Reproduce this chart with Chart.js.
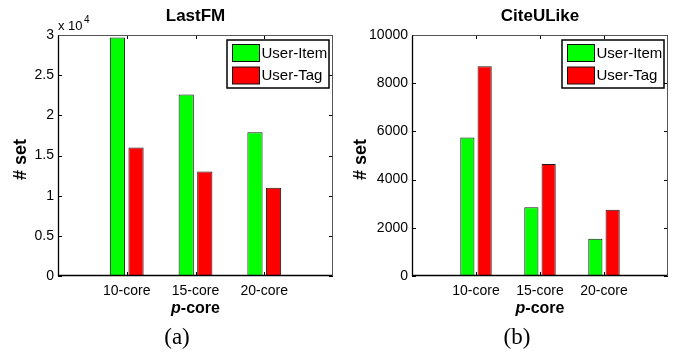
<!DOCTYPE html>
<html>
<head>
<meta charset="utf-8">
<script src="https://cdn.jsdelivr.net/npm/chart.js@4.4.1/dist/chart.umd.min.js"></script>
<style>
html, body { margin: 0; padding: 0; background: #fff; }
#wrap { position: relative; width: 675px; height: 354px; }
.panel { position: absolute; top: 0; height: 354px; }
</style>
</head>
<body>
<div id="wrap">
  <div class="panel" style="left:0;width:340px"><canvas id="lastfm"></canvas></div>
  <div class="panel" style="left:340px;width:335px"><canvas id="citeulike"></canvas></div>
</div>
<script>
// data
const categories = ['10-core', '15-core', '20-core'];
const seriesNames = ['User-Item', 'User-Tag'];
const seriesColors = ['#00ff00', '#ff0000'];

const lastfmItem = [29700, 22600, 17900];
const lastfmTag = [16000, 13000, 11000];
const lastfmTicks = ['0', '0.5', '1', '1.5', '2', '2.5', '3'];

const citeItem = [5750, 2850, 1550];
const citeTag = [8700, 4650, 2750];
const citeTicks = ['0', '2000', '4000', '6000', '8000', '10000'];

const SANS = "'Liberation Sans', Arial, sans-serif";
const SERIF = "'Liberation Serif', 'Times New Roman', serif";

function figure(title, caption, exponent) {
    return {
        id: 'figure',
        afterDatasetsDraw(chart) {
            const ctx = chart.ctx, a = chart.chartArea;
            const x = chart.scales.x, y = chart.scales.y;
            ctx.save();
            // tick marks inside the box
            ctx.strokeStyle = '#000';
            ctx.lineWidth = 1;
            ctx.beginPath();
            categories.forEach((c, i) => {
                const px = Math.round(x.getPixelForValue(i + 1)) + 0.5;
                ctx.moveTo(px, a.bottom); ctx.lineTo(px, a.bottom - 4);
                ctx.moveTo(px, a.top); ctx.lineTo(px, a.top + 4);
            });
            y.ticks.forEach(t => {
                const py = Math.round(y.getPixelForValue(t.value)) + 0.5;
                ctx.moveTo(a.left, py); ctx.lineTo(a.left + 4, py);
                ctx.moveTo(a.right, py); ctx.lineTo(a.right - 4, py);
            });
            ctx.stroke();
            // axes box
            const l = Math.round(a.left) + 0.5, r = Math.round(a.right) - 0.5;
            const tp = Math.round(a.top) + 0.5, b = Math.round(a.bottom) - 0.5;
            ctx.strokeStyle = '#555';
            ctx.beginPath();
            ctx.moveTo(l, tp); ctx.lineTo(r, tp); ctx.lineTo(r, b);
            ctx.stroke();
            ctx.strokeStyle = '#000';
            ctx.lineWidth = 1.3;
            ctx.beginPath();
            ctx.moveTo(l, tp); ctx.lineTo(l, b); ctx.lineTo(r, b);
            ctx.stroke();

            // legend
            const lw = 102, lh = 48;
            const lx = a.right - 4 - lw, ly = a.top + 5;
            ctx.fillStyle = '#fff';
            ctx.fillRect(lx, ly, lw, lh);
            ctx.lineWidth = 1.5;
            ctx.strokeStyle = '#000';
            ctx.strokeRect(lx, ly, lw, lh);
            ctx.font = '15px ' + SANS;
            ctx.textBaseline = 'middle';
            ctx.textAlign = 'left';
            seriesNames.forEach((n, i) => {
                const sy = ly + 4.5 + i * 22.5;
                ctx.fillStyle = seriesColors[i];
                ctx.fillRect(lx + 5.5, sy, 27, 17);
                ctx.lineWidth = 1;
                ctx.strokeStyle = '#111';
                ctx.strokeRect(lx + 5.5, sy, 27, 17);
                ctx.fillStyle = '#000';
                ctx.fillText(n, lx + 34.5, sy + 9);
            });

            const cx = (a.left + a.right) / 2, cy = (a.top + a.bottom) / 2;
            ctx.fillStyle = '#000';
            // title
            ctx.font = 'bold 17px ' + SANS;
            ctx.textAlign = 'center';
            ctx.fillText(title, cx, 16);
            // y label
            ctx.save();
            ctx.translate(21, cy + 4);
            ctx.rotate(-Math.PI / 2);
            ctx.font = 'bold 18px ' + SANS;
            ctx.fillText('# set', 0, 0);
            ctx.restore();
            // x label with italic p
            const f1 = 'italic bold 16px ' + SANS, f2 = 'bold 16px ' + SANS;
            ctx.font = f1; const w1 = ctx.measureText('p').width;
            ctx.font = f2; const w2 = ctx.measureText('-core').width;
            ctx.textAlign = 'left';
            ctx.font = f1; ctx.fillText('p', cx - (w1 + w2) / 2, 309);
            ctx.font = f2; ctx.fillText('-core', cx - (w1 + w2) / 2 + w1, 309);
            // exponent label
            if (exponent) {
                ctx.font = '13px ' + SANS;
                ctx.textBaseline = 'alphabetic';
                ctx.fillText('x 10', a.left, 30);
                const w = ctx.measureText('x 10').width;
                ctx.font = '10px ' + SANS;
                ctx.fillText(exponent, a.left + w + 1.5, 23);
                ctx.textBaseline = 'middle';
            }
            // caption
            ctx.font = '23px ' + SERIF;
            ctx.textAlign = 'center';
            ctx.fillText(caption, 177, 338);
            ctx.restore();
        }
    };
}

function makeChart(id, item, tag, yMax, yStep, tickLabels, yWidth, padRight, title, caption, exponent) {
    const ctx = document.getElementById(id).getContext('2d');
    const series = [item, tag];
    return new Chart(ctx, {
        type: 'bar',
        data: {
            datasets: seriesNames.map((n, k) => ({
                label: n,
                data: categories.map((c, i) => ({ x: i + 1, y: series[k][i] })),
                backgroundColor: seriesColors[k],
                borderColor: '#1a1a1a',
                borderWidth: 1,
                borderSkipped: false,
                categoryPercentage: 0.54,
                barPercentage: 0.82
            }))
        },
        options: {
            responsive: true,
            maintainAspectRatio: false,
            animation: false,
            layout: { padding: { top: 35, right: padRight, left: 0, bottom: 0 } },
            plugins: { legend: { display: false }, tooltip: { enabled: false } },
            scales: {
                x: {
                    type: 'linear',
                    min: 0, max: 4,
                    offset: false,
                    grid: { display: false, drawTicks: false },
                    border: { display: false },
                    ticks: {
                        stepSize: 1,
                        padding: 7,
                        color: '#000',
                        font: { family: SANS, size: 14 },
                        maxRotation: 0,
                        callback: v => categories[v - 1] ?? ''
                    },
                    afterFit: s => { s.height = 78; }
                },
                y: {
                    min: 0, max: yMax,
                    grid: { display: false, drawTicks: false },
                    border: { display: false },
                    ticks: {
                        stepSize: yStep,
                        padding: 4,
                        color: '#000',
                        font: { family: SANS, size: 14 },
                        callback: (v, i) => tickLabels[i]
                    },
                    afterFit: s => { s.width = yWidth; }
                }
            }
        },
        plugins: [figure(title, caption, exponent)]
    });
}

makeChart('lastfm', lastfmItem, lastfmTag, 30000, 5000, lastfmTicks, 58, 4, 'LastFM', '(a)', '4');
makeChart('citeulike', citeItem, citeTag, 10000, 2000, citeTicks, 72, 3, 'CiteULike', '(b)', null);
</script>
</body>
</html>
